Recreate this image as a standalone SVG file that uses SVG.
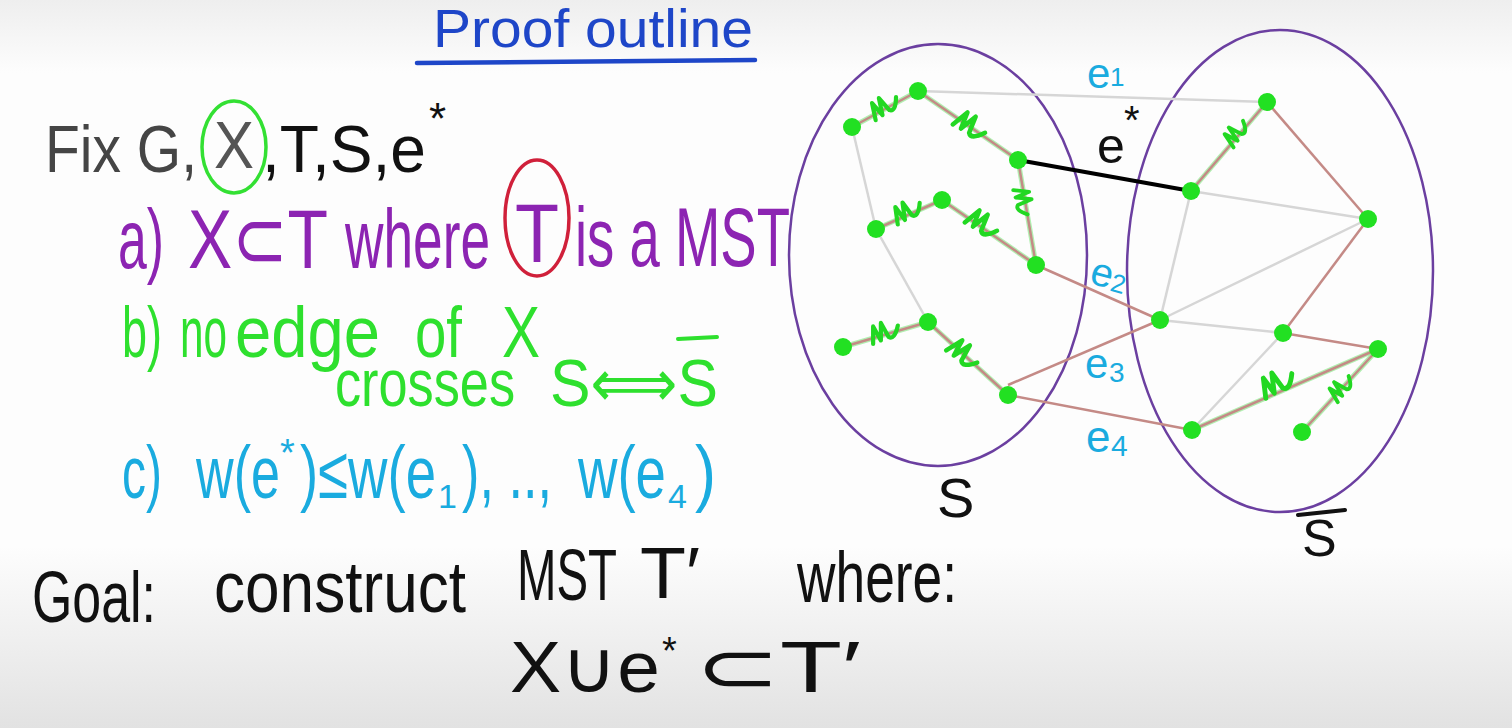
<svg xmlns="http://www.w3.org/2000/svg" width="1512" height="728" viewBox="0 0 1512 728">
<defs>
<linearGradient id="bg" x1="0" y1="0" x2="0" y2="1">
<stop offset="0" stop-color="#eeeeee"/>
<stop offset="0.1" stop-color="#fdfdfd"/>
<stop offset="0.75" stop-color="#fdfdfd"/>
<stop offset="1" stop-color="#e2e2e2"/>
</linearGradient>
<path id="scr" d="M-12,6 L-8,-8 L-5,5 L-1,-9 L2,4 Q6,8 12,-3"/>
</defs>
<style>
text{font-family:"Liberation Sans","DejaVu Sans",sans-serif;}
.gray{stroke:#d6d6d6;stroke-width:2.5;fill:none}
.tree{stroke:#c48a86;stroke-width:2.5;fill:none}
.xg{stroke:#7ee67e;stroke-width:5;fill:none;stroke-linecap:round;opacity:0.6}
.estar{stroke:#000;stroke-width:4;fill:none}
.node{fill:#22e022}
.scr{stroke:#22d822;stroke-width:3.5;fill:none;stroke-linecap:round;stroke-linejoin:round}
.set{fill:none;stroke:#6b3fa0;stroke-width:2.5}
.blue{fill:#1aabdf}
</style>
<rect width="1512" height="728" fill="url(#bg)"/>

<g id="title">
<text x="433" y="47" font-size="54" fill="#1e46c8" textLength="320" lengthAdjust="spacingAndGlyphs">Proof outline</text>
<path d="M417,63 L755,60" stroke="#1e46c8" stroke-width="4.5" stroke-linecap="round"/>
</g>

<g id="fix-line">
<text x="45" y="172" font-size="66" fill="#454545" textLength="152" lengthAdjust="spacingAndGlyphs">Fix G,</text>
<text x="214" y="168" font-size="66" fill="#555" textLength="40" lengthAdjust="spacingAndGlyphs">X</text>
<ellipse cx="234" cy="147" rx="32" ry="46" fill="none" stroke="#33e033" stroke-width="3.5"/>
<text x="262" y="172" font-size="66" fill="#111" textLength="164" lengthAdjust="spacingAndGlyphs">,T,S,e</text>
<text x="429" y="134" font-size="44" fill="#111">*</text>
</g>

<g id="line-a" fill="#8c24b2">
<text x="118" y="268" font-size="84" textLength="46" lengthAdjust="spacingAndGlyphs">a)</text>
<text x="188" y="268" font-size="84" textLength="140" lengthAdjust="spacingAndGlyphs">X⊂T</text>
<text x="345" y="268" font-size="84" textLength="145" lengthAdjust="spacingAndGlyphs">where</text>
<text x="515" y="262" font-size="84" textLength="44" lengthAdjust="spacingAndGlyphs">T</text>
<text x="575" y="266" font-size="84" textLength="215" lengthAdjust="spacingAndGlyphs">is a MST</text>
<ellipse cx="537" cy="218" rx="32" ry="58" fill="none" stroke="#d0203a" stroke-width="3.5"/>
</g>

<g id="line-b" fill="#2ee02e">
<text x="122" y="357" font-size="72" textLength="40" lengthAdjust="spacingAndGlyphs">b)</text>
<text x="180" y="357" font-size="72" textLength="47" lengthAdjust="spacingAndGlyphs">no</text>
<text x="235" y="357" font-size="72" textLength="145" lengthAdjust="spacingAndGlyphs">edge</text>
<text x="415" y="357" font-size="72" textLength="47" lengthAdjust="spacingAndGlyphs">of</text>
<text x="502" y="357" font-size="72" textLength="38" lengthAdjust="spacingAndGlyphs">X</text>
<text x="335" y="406" font-size="66" textLength="180" lengthAdjust="spacingAndGlyphs">crosses</text>
<text x="550" y="406" font-size="66" textLength="168" lengthAdjust="spacingAndGlyphs">S⟺S</text>
<path d="M678,339 L717,337" stroke="#2ee02e" stroke-width="4" stroke-linecap="round"/>
</g>

<g id="line-c" fill="#1aabdf">
<text x="122" y="498" font-size="74" textLength="40" lengthAdjust="spacingAndGlyphs">c)</text>
<text x="196" y="498" font-size="74" textLength="84" lengthAdjust="spacingAndGlyphs">w(e</text>
<text x="280" y="466" font-size="38">*</text>
<text x="300" y="498" font-size="74" textLength="136" lengthAdjust="spacingAndGlyphs">)≤w(e</text>
<text x="438" y="508" font-size="34">1</text>
<text x="462" y="498" font-size="74" textLength="90" lengthAdjust="spacingAndGlyphs">), ..,</text>
<text x="578" y="498" font-size="74" textLength="88" lengthAdjust="spacingAndGlyphs">w(e</text>
<text x="668" y="508" font-size="34">4</text>
<text x="695" y="498" font-size="74" textLength="21" lengthAdjust="spacingAndGlyphs">)</text>
</g>

<g id="goal" fill="#111">
<text x="32" y="622" font-size="72" textLength="124" lengthAdjust="spacingAndGlyphs">Goal:</text>
<text x="214" y="612" font-size="72" textLength="252" lengthAdjust="spacingAndGlyphs">construct</text>
<text x="517" y="600" font-size="72" textLength="100" lengthAdjust="spacingAndGlyphs">MST</text>
<text x="640" y="598" font-size="72" textLength="60" lengthAdjust="spacingAndGlyphs">T′</text>
<text x="797" y="602" font-size="72" textLength="160" lengthAdjust="spacingAndGlyphs">where:</text>
<text x="510" y="692" font-size="72" textLength="150" lengthAdjust="spacingAndGlyphs">X∪e</text>
<text x="662" y="664" font-size="38">*</text>
<text x="695" y="692" font-size="72" textLength="166" lengthAdjust="spacingAndGlyphs">⊂T′</text>
</g>

<g id="sets">
<ellipse id="S" cx="938" cy="255" rx="149" ry="211" class="set"/>
<ellipse id="Sbar" cx="1280" cy="271" rx="153" ry="241" class="set"/>
<text x="937" y="517" font-size="56" fill="#111">S</text>
<text x="1302" y="556" font-size="52" fill="#111">S</text>
<path d="M1298,515 L1345,510" stroke="#111" stroke-width="4" stroke-linecap="round"/>
</g>

<g id="connectors">
<line class="gray" x1="852" y1="127" x2="876" y2="229"/>
<line class="gray" x1="918" y1="91" x2="1267" y2="102"/>
<line class="gray" x1="876" y1="229" x2="928" y2="322"/>
<line class="gray" x1="1191" y1="191" x2="1368" y2="219"/>
<line class="gray" x1="1191" y1="191" x2="1160" y2="320"/>
<line class="gray" x1="1160" y1="320" x2="1368" y2="219"/>
<line class="gray" x1="1160" y1="320" x2="1283" y2="333"/>
<line class="gray" x1="1283" y1="333" x2="1192" y2="430"/>

<line class="xg" x1="852" y1="127" x2="918" y2="91"/>
<line class="xg" x1="918" y1="91" x2="1018" y2="160"/>
<line class="xg" x1="1018" y1="160" x2="1036" y2="265"/>
<line class="xg" x1="876" y1="229" x2="942" y2="200"/>
<line class="xg" x1="942" y1="200" x2="1036" y2="265"/>
<line class="xg" x1="843" y1="347" x2="928" y2="322"/>
<line class="xg" x1="928" y1="322" x2="1008" y2="395"/>
<line class="xg" x1="1191" y1="191" x2="1267" y2="102"/>
<line class="xg" x1="1192" y1="430" x2="1378" y2="349"/>
<line class="xg" x1="1302" y1="432" x2="1378" y2="349"/>

<line class="tree" x1="852" y1="127" x2="918" y2="91"/>
<line class="tree" x1="918" y1="91" x2="1018" y2="160"/>
<line class="tree" x1="1018" y1="160" x2="1036" y2="265"/>
<line class="tree" x1="876" y1="229" x2="942" y2="200"/>
<line class="tree" x1="942" y1="200" x2="1036" y2="265"/>
<line class="tree" x1="843" y1="347" x2="928" y2="322"/>
<line class="tree" x1="928" y1="322" x2="1008" y2="395"/>
<line class="tree" x1="1191" y1="191" x2="1267" y2="102"/>
<line class="tree" x1="1192" y1="430" x2="1378" y2="349"/>
<line class="tree" x1="1302" y1="432" x2="1378" y2="349"/>
<line class="tree" x1="1036" y1="265" x2="1160" y2="320"/>
<line class="tree" x1="1008" y1="385" x2="1160" y2="320"/>
<line class="tree" x1="1008" y1="395" x2="1192" y2="430"/>
<line class="tree" x1="1267" y1="102" x2="1368" y2="219"/>
<line class="tree" x1="1368" y1="219" x2="1283" y2="333"/>
<line class="tree" x1="1283" y1="333" x2="1378" y2="349"/>

<line class="estar" x1="1018" y1="160" x2="1191" y2="191"/>

<use href="#scr" class="scr" transform="translate(885,107) rotate(-28) scale(1.2)"/>
<use href="#scr" class="scr" transform="translate(970,127) rotate(35) scale(1.3)"/>
<use href="#scr" class="scr" transform="translate(1022,202) rotate(80) scale(1.1)"/>
<use href="#scr" class="scr" transform="translate(908,212) rotate(-24) scale(1.2)"/>
<use href="#scr" class="scr" transform="translate(982,225) rotate(35) scale(1.3)"/>
<use href="#scr" class="scr" transform="translate(885,333) rotate(-16) scale(1.2)"/>
<use href="#scr" class="scr" transform="translate(963,355) rotate(42) scale(1.3)"/>
<use href="#scr" class="scr" transform="translate(1237,133) rotate(-50) scale(1.1)"/>
<use href="#scr" class="scr" transform="translate(1278,384) rotate(-23) scale(1.4)"/>
<use href="#scr" class="scr" transform="translate(1342,388) rotate(-47) scale(1.1)"/>

<text x="1087" y="88" font-size="42" class="blue">e</text>
<text x="1110" y="86" font-size="26" class="blue">1</text>
<text x="1097" y="163" font-size="50" fill="#111">e</text>
<text x="1124" y="134" font-size="40" fill="#111">*</text>
<g transform="rotate(15 1105 275)">
<text x="1091" y="287" font-size="40" class="blue">e</text>
<text x="1113" y="289" font-size="26" class="blue">2</text>
</g>
<text x="1085" y="378" font-size="42" class="blue">e</text>
<text x="1109" y="382" font-size="28" class="blue">3</text>
<text x="1086" y="452" font-size="44" class="blue">e</text>
<text x="1111" y="456" font-size="30" class="blue">4</text>
</g>

<g id="nodes" class="node">
<circle id="nA" cx="852" cy="127" r="9"/>
<circle id="nB" cx="918" cy="91" r="9"/>
<circle id="nC" cx="1018" cy="160" r="9"/>
<circle id="nD" cx="876" cy="229" r="9"/>
<circle id="nE" cx="942" cy="200" r="9"/>
<circle id="nF" cx="1036" cy="265" r="9"/>
<circle id="nG" cx="843" cy="347" r="9"/>
<circle id="nH" cx="928" cy="322" r="9"/>
<circle id="nI" cx="1008" cy="395" r="9"/>
<circle id="nJ" cx="1267" cy="102" r="9"/>
<circle id="nK" cx="1191" cy="191" r="9"/>
<circle id="nL" cx="1368" cy="219" r="9"/>
<circle id="nM" cx="1160" cy="320" r="9"/>
<circle id="nN" cx="1283" cy="333" r="9"/>
<circle id="nO" cx="1378" cy="349" r="9"/>
<circle id="nP" cx="1192" cy="430" r="9"/>
<circle id="nQ" cx="1302" cy="432" r="9"/>
</g>
</svg>
